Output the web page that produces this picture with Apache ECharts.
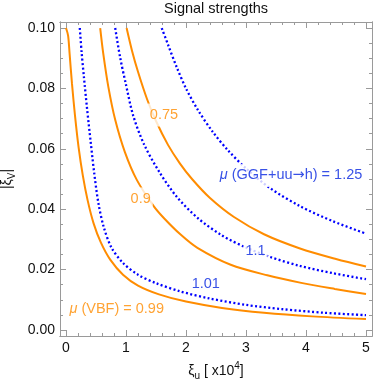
<!DOCTYPE html>
<html><head><meta charset="utf-8">
<script src="https://cdn.jsdelivr.net/npm/echarts@6/dist/echarts.min.js"></script>
<style>html,body{margin:0;padding:0;background:#fff}#c{width:382px;height:382px}</style>
</head><body><div id="c"></div>
<script>
// ---- data (x in units of 1e4, y = |xi_V|) ----
const xTickValues = [0, 1, 2, 3, 4, 5];
const xMinorValues = [0.2,0.4,0.6,0.8,1.2,1.4,1.6,1.8,2.2,2.4,2.6,2.8,3.2,3.4,3.6,3.8,4.2,4.4,4.6,4.8];
const yTickValues = [0, 0.02, 0.04, 0.06, 0.08, 0.10];
const yMinorValues = [0.005,0.01,0.015,0.025,0.03,0.035,0.045,0.05,0.055,0.065,0.07,0.075,0.085,0.09,0.095];

const vbf099 = [[0.0,0.1000],[0.035,0.0975],[0.06,0.0915],[0.10,0.0815],[0.15,0.0710],[0.21,0.0605],[0.28,0.0512],[0.36,0.0430],[0.46,0.0353],[0.58,0.0290],[0.74,0.0232],[0.95,0.0183],[1.2,0.0147],[1.55,0.0118],[2.0,0.0094],[2.6,0.0073],[3.3,0.0057],[4.1,0.0045],[5.0,0.0036]];
const ggf101 = [[0.23,0.100],[0.26,0.092],[0.30,0.0835],[0.35,0.0735],[0.41,0.0625],[0.47,0.052],[0.54,0.042],[0.63,0.0340],[0.76,0.0272],[0.95,0.0222],[1.2,0.0183],[1.5,0.0155],[1.9,0.0128],[2.4,0.0104],[3.0,0.0083],[3.6,0.0069],[4.3,0.0057],[5.0,0.0049]];
const vbf090 = [[0.57,0.100],[0.62,0.0917],[0.705,0.0806],[0.82,0.0696],[0.98,0.0590],[1.18,0.0497],[1.455,0.0412],[1.63,0.0371],[1.91,0.0316],[2.19,0.0272],[2.745,0.0216],[3.355,0.0181],[3.92,0.0156],[4.48,0.0136],[5.0,0.0119]];
const ggf110 = [[0.82,0.100],[0.9,0.0905],[1.0,0.0812],[1.12,0.0710],[1.3,0.0615],[1.55,0.0525],[1.85,0.0440],[2.2,0.0370],[2.6,0.0313],[3.0,0.0273],[3.4,0.0242],[3.9,0.0212],[4.45,0.0188],[5.0,0.0168]];
const vbf075 = [[1.01,0.100],[1.1,0.0925],[1.2,0.0855],[1.35,0.0765],[1.5,0.0692],[1.7,0.0613],[1.9,0.0551],[2.1,0.0500],[2.4,0.0437],[2.8,0.0374],[3.3,0.0317],[3.9,0.0270],[4.5,0.0235],[5.0,0.0210]];
const ggf125 = [[1.595,0.100],[1.7,0.0945],[1.85,0.0868],[2.0,0.0800],[2.2,0.0728],[2.45,0.0655],[2.7,0.0595],[3.0,0.0535],[3.4,0.0470],[3.9,0.0410],[4.45,0.0360],[5.0,0.0319]];

const ORANGE = '#FF8C00';
const BLUE = '#0000FF';
const BLUE_TXT = '#0626E0';
const FONT = 'Liberation Sans, Arial, Helvetica, sans-serif';

const chart = echarts.init(document.getElementById('c'), null, {renderer: 'canvas'});

function xAx(pos, values, len, labels) {
  return {
    type: 'value', position: pos, min: -0.1, max: 5.1,
    axisLine: {show: true, onZero: false, lineStyle: {color: '#9a9a9a', width: 1}},
    axisTick: {show: true, inside: true, length: len, customValues: values, lineStyle: {color: '#9a9a9a'}},
    axisLabel: labels ? {show: true, customValues: xTickValues, margin: 5, color: '#111', fontSize: 14, fontFamily: FONT,
      formatter: v => String(Math.round(v))} : {show: false},
    splitLine: {show: false}
  };
}
function yAx(pos, values, len, labels) {
  return {
    type: 'value', position: pos, min: -0.002, max: 0.102,
    axisLine: {show: true, onZero: false, lineStyle: {color: '#9a9a9a', width: 1}},
    axisTick: {show: true, inside: true, length: len, customValues: values, lineStyle: {color: '#9a9a9a'}},
    axisLabel: labels ? {show: true, customValues: yTickValues, margin: 5, color: '#111', fontSize: 14, fontFamily: FONT,
      formatter: v => v.toFixed(2)} : {show: false},
    splitLine: {show: false}
  };
}

const xs = [xAx('bottom', xTickValues, 6, true), xAx('bottom', xMinorValues, 3, false), xAx('top', xTickValues, 6, false), xAx('top', xMinorValues, 3, false)];
xs[0].name = '{a|ξ}{s|u}{a| [ x10}{p|4}{a|]}';
xs[0].nameLocation = 'middle';
xs[0].nameGap = 25;
xs[0].nameTextStyle = {color: '#111', fontFamily: FONT, rich: {
  a: {fontSize: 14, lineHeight: 20, verticalAlign: 'middle', fontFamily: FONT, color: '#111'},
  s: {fontSize: 10, lineHeight: 11, verticalAlign: 'bottom', fontFamily: FONT, color: '#111'},
  p: {fontSize: 10, lineHeight: 11, verticalAlign: 'top', fontFamily: FONT, color: '#111'}
}};
const ys = [yAx('left', yTickValues, 6, true), yAx('left', yMinorValues, 3, false), yAx('right', yTickValues, 6, false), yAx('right', yMinorValues, 3, false)];
ys[0].name = '{a||ξ}{s|V}{a||}';
ys[0].nameLocation = 'middle';
ys[0].nameRotate = 90;
ys[0].nameGap = 40;
ys[0].nameTextStyle = {color: '#111', fontFamily: FONT, rich: {
  a: {fontSize: 14, lineHeight: 20, verticalAlign: 'middle', fontFamily: FONT, color: '#111'},
  s: {fontSize: 10, lineHeight: 11, verticalAlign: 'bottom', fontFamily: FONT, color: '#111'}
}};

function curve(data, color, dotted) {
  return {
    type: 'line', data: data, xAxisIndex: 0, yAxisIndex: 0, showSymbol: false, symbol: 'none',
    smooth: 0.3, silent: true, z: 3,
    lineStyle: dotted ? {color: color, width: 2.3, type: [2, 2.4], cap: 'butt'} : {color: color, width: 2}
  };
}

function lab(x, y, text, color, bg) {
  return {
    value: [x, y],
    label: {show: true, position: 'inside', formatter: text, color: color, fontSize: 14.5, fontFamily: FONT,
      backgroundColor: bg ? '#ffffff' : 'transparent', padding: bg ? [4, 2] : 0,
      rich: {
        i: {fontStyle: 'italic', fontSize: 14.5, fontFamily: FONT, color: color},
        ar: {fontSize: 14.5, fontFamily: 'DejaVu Sans', color: color}
      }}
  };
}

chart.setOption({
  animation: false,
  backgroundColor: '#ffffff',
  grid: {left: 60, right: 10, top: 22, bottom: 46, containLabel: false, outerBoundsMode: 'none'},
  xAxis: xs,
  yAxis: ys,
  graphic: [{type: 'text', x: 216, y: 9, style: {text: 'Signal strengths', fontSize: 14.5, fontFamily: FONT, fill: '#111', textAlign: 'center', textVerticalAlign: 'middle'}}],
  series: [
    curve(vbf099, ORANGE, false),
    curve(ggf101, BLUE, true),
    curve(vbf090, ORANGE, false),
    curve(ggf110, BLUE, true),
    curve(vbf075, ORANGE, false),
    curve(ggf125, BLUE, true),
    {
      type: 'scatter', xAxisIndex: 0, yAxisIndex: 0, symbolSize: 1, silent: true, z: 10,
      itemStyle: {color: 'rgba(0,0,0,0)'},
      data: [
        lab(1.633, 0.0712, '0.75', ORANGE, true),
        lab(1.245, 0.0434, '0.9', ORANGE, true),
        lab(3.16, 0.0263, '1.1', BLUE_TXT, true),
        lab(2.33, 0.0153, '1.01', BLUE_TXT, false),
        lab(0.845, 0.0070, '{i|μ} (VBF) = 0.99', ORANGE, false),
        lab(3.75, 0.0512, '{i|μ} (GGF+uu{ar|→}h) = 1.25', BLUE_TXT, true)
      ]
    }
  ]
});
</script>
</body></html>
